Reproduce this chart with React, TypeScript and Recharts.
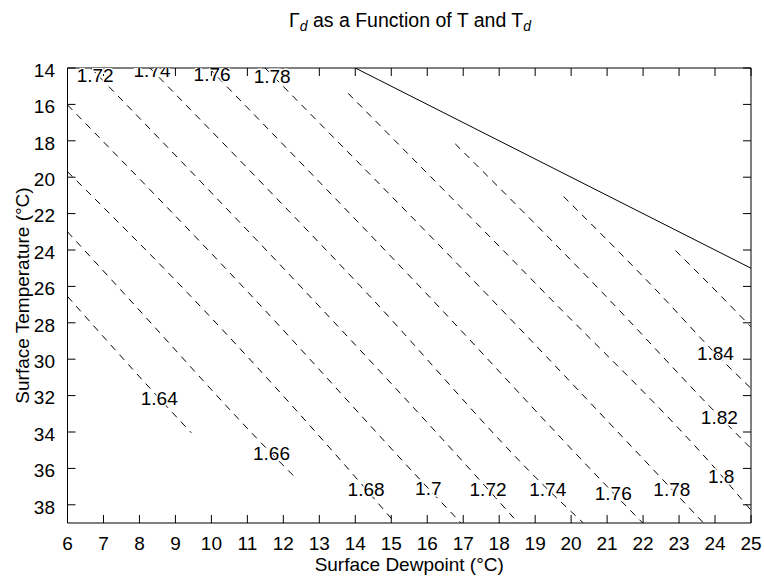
import React from 'react';
import { ComposedChart, Line, Scatter, XAxis, YAxis } from 'recharts';

const dewpointTicks = [6, 7, 8, 9, 10, 11, 12, 13, 14, 15, 16, 17, 18, 19, 20, 21, 22, 23, 24, 25];
const temperatureTicks = [14, 16, 18, 20, 22, 24, 26, 28, 30, 32, 34, 36, 38];
const dewpointDomain = [6, 25];
const temperatureDomain = [14, 39];

const saturationLine = [
  { x: 14, y: 14 },
  { x: 25, y: 25 },
];

const contour164 = [
  { x: 6.0, y: 26.55 },
  { x: 8.55, y: 32.15 },
  { x: 9.44, y: 34.04 },
];
const contour166 = [
  { x: 6.0, y: 23.0 },
  { x: 7.54, y: 26.32 },
  { x: 11.67, y: 35.18 },
  { x: 12.38, y: 36.6 },
];
const contour168 = [
  { x: 6.0, y: 19.7 },
  { x: 9.32, y: 26.32 },
  { x: 14.3, y: 37.15 },
  { x: 15.11, y: 39.0 },
];
const contour170 = [
  { x: 6.0, y: 16.03 },
  { x: 11.02, y: 26.32 },
  { x: 16.03, y: 37.1 },
  { x: 16.94, y: 39.0 },
];
const contour172 = [
  { x: 6.65, y: 14.0 },
  { x: 12.63, y: 26.32 },
  { x: 17.69, y: 37.15 },
  { x: 18.53, y: 39.0 },
];
const contour174 = [
  { x: 8.29, y: 14.0 },
  { x: 14.3, y: 26.32 },
  { x: 19.35, y: 37.15 },
  { x: 20.34, y: 39.0 },
];
const contour176 = [
  { x: 9.93, y: 14.0 },
  { x: 15.94, y: 26.32 },
  { x: 21.17, y: 37.34 },
  { x: 21.99, y: 39.0 },
];
const contour178 = [
  { x: 11.49, y: 14.0 },
  { x: 17.6, y: 26.32 },
  { x: 22.8, y: 37.15 },
  { x: 23.68, y: 39.0 },
];
const contour180 = [
  { x: 13.8, y: 15.39 },
  { x: 19.25, y: 26.32 },
  { x: 24.18, y: 36.4 },
  { x: 25.0, y: 38.3 },
];
const contour182 = [
  { x: 16.78, y: 18.17 },
  { x: 20.86, y: 26.32 },
  { x: 24.1, y: 33.1 },
  { x: 25.0, y: 34.9 },
];
const contour184 = [
  { x: 19.79, y: 21.06 },
  { x: 22.42, y: 26.32 },
  { x: 24.01, y: 29.68 },
  { x: 25.0, y: 31.6 },
];
const contour186 = [
  { x: 22.9, y: 24.03 },
  { x: 24.06, y: 26.32 },
  { x: 25.0, y: 28.22 },
];

const contours = [
  contour164, contour166, contour168, contour170, contour172, contour174,
  contour176, contour178, contour180, contour182, contour184, contour186,
];

const contourLabels = [
  { x: 8.55, y: 32.15, text: '1.64' },
  { x: 11.67, y: 35.18, text: '1.66' },
  { x: 14.3, y: 37.15, text: '1.68' },
  { x: 16.03, y: 37.1, text: '1.7' },
  { x: 17.69, y: 37.15, text: '1.72' },
  { x: 19.35, y: 37.15, text: '1.74' },
  { x: 21.17, y: 37.34, text: '1.76' },
  { x: 22.8, y: 37.15, text: '1.78' },
  { x: 24.17, y: 36.4, text: '1.8' },
  { x: 24.12, y: 33.17, text: '1.82' },
  { x: 24.01, y: 29.68, text: '1.84' },
  { x: 6.77, y: 14.38, text: '1.72' },
  { x: 8.35, y: 14.14, text: '1.74' },
  { x: 10.02, y: 14.33, text: '1.76' },
  { x: 11.69, y: 14.46, text: '1.78' },
];

const FONT = '"Liberation Sans", Arial, Helvetica, sans-serif';
const FS = 19;

function ContourLabel(props: any) {
  const { cx, cy, payload } = props;
  return (
    <text
      x={cx}
      y={cy}
      dy="0.36em"
      textAnchor="middle"
      fontSize={FS}
      fontFamily={FONT}
      fill="#000"
      stroke="#fff"
      strokeWidth={3}
      paintOrder="stroke"
    >
      {payload.text}
    </text>
  );
}

const xTickStyle = { fill: '#000', fontSize: FS, fontFamily: FONT };
const yTickStyle = { fill: '#000', fontSize: FS, fontFamily: FONT, dy: 2 };

export default function App() {
  return (
    <div style={{ position: 'absolute', left: 0, top: 0, width: 764, height: 582, background: '#fff' }}>
      <svg width={764} height={40} style={{ position: 'absolute', left: 0, top: 0 }}>
        <text x={410} y={27} textAnchor="middle" fontSize={19.5} fontFamily={FONT} fill="#000">
          Γ<tspan fontStyle="italic" fontSize={14} dy={4}>d</tspan>
          <tspan dy={-4}> as a Function of T and T</tspan>
          <tspan fontStyle="italic" fontSize={14} dy={4}>d</tspan>
        </text>
      </svg>
      <div style={{ position: 'absolute', left: 0, top: 0 }}>
        <ComposedChart
          width={764}
          height={582}
          margin={{ top: 67, right: 12, bottom: 0, left: 0 }}
        >
          <XAxis
            xAxisId="bottom"
            dataKey="x"
            type="number"
            orientation="bottom"
            domain={dewpointDomain}
            ticks={dewpointTicks}
            allowDataOverflow
            height={59}
            stroke="#000"
            tickSize={-8}
            tickMargin={22}
            tick={xTickStyle}
            label={{
              value: 'Surface Dewpoint (°C)',
              position: 'insideBottom',
              offset: 11,
              style: { fill: '#000', fontSize: FS, fontFamily: FONT },
            }}
          />
          <XAxis
            xAxisId="top"
            dataKey="x"
            type="number"
            orientation="top"
            domain={dewpointDomain}
            ticks={dewpointTicks}
            allowDataOverflow
            height={1}
            stroke="#000"
            tickSize={-8}
            tickFormatter={() => ''}
          />
          <YAxis
            yAxisId="left"
            dataKey="y"
            type="number"
            orientation="left"
            reversed
            domain={temperatureDomain}
            ticks={temperatureTicks}
            allowDataOverflow
            width={67.5}
            stroke="#000"
            tickSize={-8}
            tickMargin={20.5}
            tick={yTickStyle}
            label={{
              value: 'Surface Temperature (°C)',
              angle: -90,
              position: 'insideLeft',
              offset: 22,
              style: { textAnchor: 'middle', fill: '#000', fontSize: FS, fontFamily: FONT },
            }}
          />
          <YAxis
            yAxisId="right"
            dataKey="y"
            type="number"
            orientation="right"
            reversed
            domain={temperatureDomain}
            ticks={temperatureTicks}
            allowDataOverflow
            width={1}
            stroke="#000"
            tickSize={-8}
            tickFormatter={() => ''}
          />
          {contours.map((c, i) => (
            <Line
              key={i}
              xAxisId="bottom"
              yAxisId="left"
              data={c}
              dataKey="y"
              type="monotone"
              stroke="#000"
              strokeWidth={1}
              strokeDasharray="7 6"
              dot={false}
              activeDot={false}
              isAnimationActive={false}
            />
          ))}
          <Line
            xAxisId="bottom"
            yAxisId="left"
            data={saturationLine}
            dataKey="y"
            type="linear"
            stroke="#000"
            strokeWidth={1}
            dot={false}
            activeDot={false}
            isAnimationActive={false}
          />
          <Scatter
            xAxisId="bottom"
            yAxisId="left"
            data={contourLabels}
            dataKey="y"
            shape={ContourLabel}
            isAnimationActive={false}
          />
        </ComposedChart>
      </div>
    </div>
  );
}
